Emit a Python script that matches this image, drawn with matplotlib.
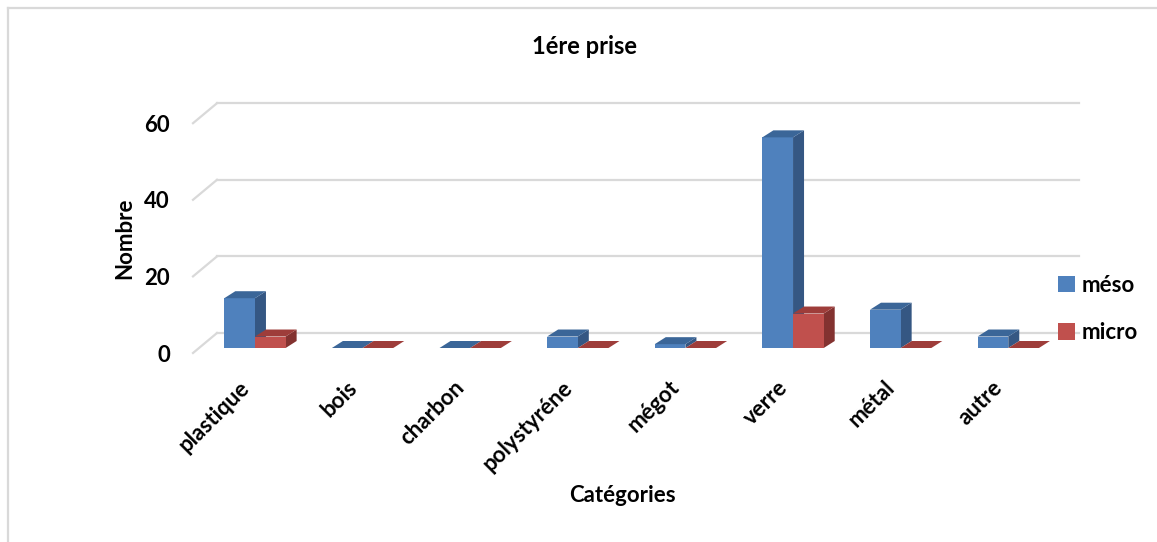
import matplotlib
matplotlib.use("Agg")
import matplotlib.pyplot as plt
from matplotlib.patches import Polygon, Patch
from matplotlib.lines import Line2D
from matplotlib.transforms import offset_copy, ScaledTranslation

plt.rcParams['font.family'] = ['Lato', 'DejaVu Sans']
plt.rcParams['font.weight'] = 'bold'

categories = ['plastique', 'bois', 'charbon', 'polystyréne', 'mégot', 'verre', 'métal', 'autre']
meso = [13, 0, 0, 3, 1, 55, 10, 3]
micro = [3, 0, 0, 0, 0, 9, 0, 0]
yticks = [0, 20, 40, 60]

W, H = 1157, 542
fig = plt.figure(figsize=(W / 100, H / 100), dpi=100)

# axes box in pixels (front plane of the bars)
left_px, right_px = 199, 1061
bottom_px, ymax = 348, 62
ppu_y = 3.83
top_px = bottom_px - ymax * ppu_y
ax = fig.add_axes([left_px / W, 1 - bottom_px / H,
                   (right_px - left_px) / W, (bottom_px - top_px) / H])
xlim = (-0.52, 7.49)
ax.set_xlim(*xlim)
ax.set_ylim(0, ymax)
for s in ax.spines.values():
    s.set_visible(False)
ax.tick_params(length=0)
ax.set_yticks([])

ppu_x = (right_px - left_px) / (xlim[1] - xlim[0])

def px(dx, dy):
    return dx / ppu_x, dy / ppu_y

# back wall gridlines plus the diagonal on the side wall
grid_c = '#D9D9D9'
wdx, wdy = px(18, 15)
fdx, fdy = px(-6, -5)
for v in yticks:
    ax.plot([xlim[0] + wdx, xlim[1] + wdx], [v + wdy, v + wdy], color=grid_c,
            lw=1.6, clip_on=False, zorder=0)
    ax.plot([xlim[0] + fdx, xlim[0] + wdx], [v + fdy, v + wdy], color=grid_c,
            lw=1.6, clip_on=False, zorder=0)
    ax.text(xlim[0], v, str(v), transform=offset_copy(ax.transData, fig=fig, x=-29, y=-7, units='dots'),
            ha='right', va='center', fontsize=16, fontweight='bold')

# 3d-looking bars: front face, top face, right side
bw = 0.285
ddx, ddy = px(11, 7)
series = [
    (meso, -bw / 2, '#4F81BD', '#3B6698', '#355783', 'méso'),
    (micro, bw / 2, '#C0504D', '#9E3D3A', '#833230', 'micro'),
]
for vals, off, c_front, c_top, c_side, name in series:
    for i, h in enumerate(vals):
        x0 = i + off - bw / 2
        x1 = i + off + bw / 2
        if h > 0:
            ax.add_patch(Polygon([(x1, 0), (x1 + ddx, ddy), (x1 + ddx, h + ddy), (x1, h)],
                                 facecolor=c_side, edgecolor='none', clip_on=False, zorder=2 + i))
            ax.add_patch(Polygon([(x0, 0), (x1, 0), (x1, h), (x0, h)],
                                 facecolor=c_front, edgecolor='none', clip_on=False, zorder=2 + i))
        ax.add_patch(Polygon([(x0, h), (x1, h), (x1 + ddx, h + ddy), (x0 + ddx, h + ddy)],
                             facecolor=c_top, edgecolor='none', clip_on=False, zorder=2 + i))

ax.set_xticks(range(len(categories)))
ax.set_xticklabels(categories, rotation=45, ha='right', va='center',
                   rotation_mode='anchor', fontsize=16, fontweight='bold')
ax.tick_params(axis='x', pad=26)
for lbl in ax.get_xticklabels():
    lbl.set_transform(lbl.get_transform() + ScaledTranslation(-9 / 100, 0, fig.dpi_scale_trans))

fig.text(585 / W, 1 - 47 / H, '1ére prise', ha='center', va='center', fontsize=17, fontweight='bold')
fig.text(622 / W, 1 - 496 / H, 'Catégories', ha='center', va='center', fontsize=16, fontweight='bold')
fig.text(125 / W, 1 - 238 / H, 'Nombre', ha='center', va='center', rotation=90,
         fontsize=16, fontweight='bold')

handles = [Patch(facecolor=s[2], edgecolor='none', label=s[5]) for s in series]
fig.legend(handles=handles, loc='center left', bbox_to_anchor=(1058 / W, 1 - 309 / H),
           frameon=False, fontsize=16, handlelength=0.75, handleheight=0.75,
           handletextpad=0.3, labelspacing=1.2, borderpad=0, borderaxespad=0)

# chart frame
fig.add_artist(Line2D([8 / W, 1], [1 - 8 / H, 1 - 8 / H], color=grid_c, lw=1.6))
fig.add_artist(Line2D([8 / W, 8 / W], [0, 1 - 8 / H], color=grid_c, lw=1.6))

fig.savefig('out.png', dpi=100)
